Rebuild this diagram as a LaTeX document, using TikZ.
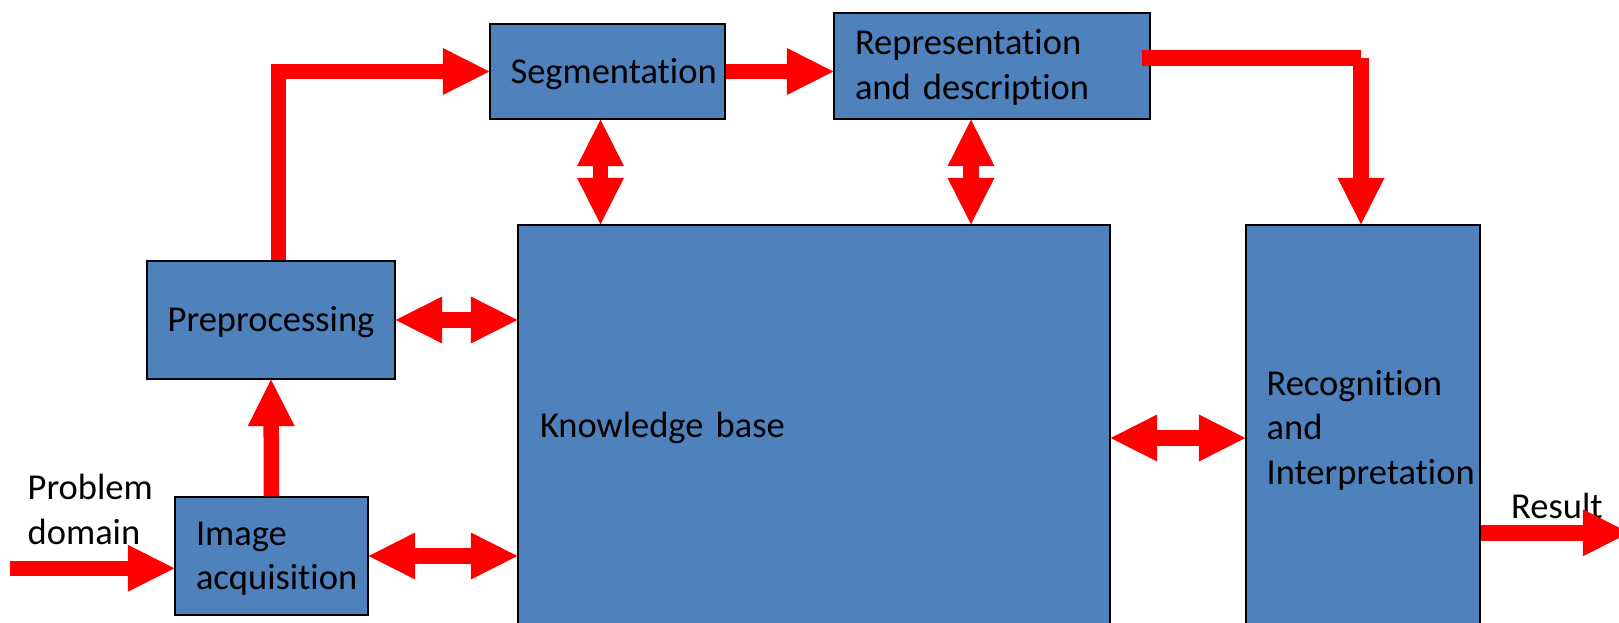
\documentclass[tikz,border=0pt]{standalone}
\usepackage{fontspec}
\setmainfont{Carlito}[Ligatures=NoCommon]
\usetikzlibrary{arrows.meta,calc}
\definecolor{boxblue}{RGB}{79,129,189}
\begin{document}
\begin{tikzpicture}[x=1pt,y=-1pt,
  >={Triangle[length=46.5pt,width=47pt,line width=0pt]},
  box/.style={draw=black, line width=1.3pt, fill=boxblue, rectangle, inner ysep=0pt,
    font=\fontsize{36.5}{44.5}\selectfont, text=black},
  flow/.style={draw=red, line width=15.5pt, line cap=butt, line join=miter},
  lbl/.style={font=\fontsize{36.5}{44.5}\selectfont, text=black, inner sep=0pt}]
\useasboundingbox (0,0) rectangle (1619,623);
% boxes
\node[box, minimum width=248pt, minimum height=118pt, text width=228pt, inner xsep=10pt, align=center,
  text height=23.4pt, text depth=0pt] (pre) at (271,320) {Preprocessing};
\node[box, minimum width=193pt, minimum height=118pt, text width=151pt, inner xsep=21pt, align=left,
  text height=0pt, text depth=22pt] (acq) at (271.5,556) {Image\\acquisition};
\node[box, minimum width=235pt, minimum height=95pt, text width=194pt, inner xsep=20.5pt, align=left,
  text height=23.6pt, text depth=0pt] (seg) at (607.5,71.5) {Segmentation};
\node[box, minimum width=316pt, minimum height=106pt, text width=274pt, inner xsep=21pt, align=left,
  text height=0pt, text depth=22pt] (rep) at (992,66) {Representation\\and description};
\node[box, minimum width=592pt, minimum height=402pt, text width=548pt, inner xsep=22pt, align=left,
  text height=22.6pt, text depth=0pt] (kb) at (814,426) {Knowledge base};
\node[box, minimum width=234pt, minimum height=406pt, text width=192.8pt, inner xsep=20.6pt, align=left,
  text height=0pt, text depth=65.4pt] (rec) at (1363,428) {Recognition\\and\\Interpretation};
% labels
\node[lbl, anchor=base west, align=left] (pdl) at (27.5,544) {Problem\\domain};
\node[lbl, anchor=base west] (resl) at (1511,518.3) {Result};
% coordinates
\coordinate (pd) at (10.3,568.3);
\coordinate (res) at (1629.3,532.8);
\coordinate (c2) at (1361,58);
\coordinate (p1) at ($(pre.north)+(7.5,0)$);
\coordinate (s1) at ($(seg.south)+(-7,0)$);
\coordinate (r1) at ($(rep.south)+(-21,0)$);
\coordinate (k1) at ($(kb.east)+(0,12)$);
% connectors
\draw[flow,->] (pd) -- (pd -| acq.west);
\draw[flow,->] (acq.north) -- (pre.south);
\draw[flow,->] (p1) |- (seg.west);
\draw[flow,->] (seg.east) -- (seg.east -| rep.west);
\draw[flow] ($(rep.east)+(-9,-8)$) -- (c2);
\draw[flow,->] (c2) -- (c2 |- rec.north);
\draw[flow,<->] (s1) -- (s1 |- kb.north);
\draw[flow,<->] (r1) -- (r1 |- kb.north);
\draw[flow,<->] (pre.east) -- (pre.east -| kb.west);
\draw[flow,<->] (acq.east) -- (acq.east -| kb.west);
\draw[flow,<->] (k1) -- (k1 -| rec.west);
\draw[flow,->] (res -| rec.east) -- (res);
\end{tikzpicture}
\end{document}
